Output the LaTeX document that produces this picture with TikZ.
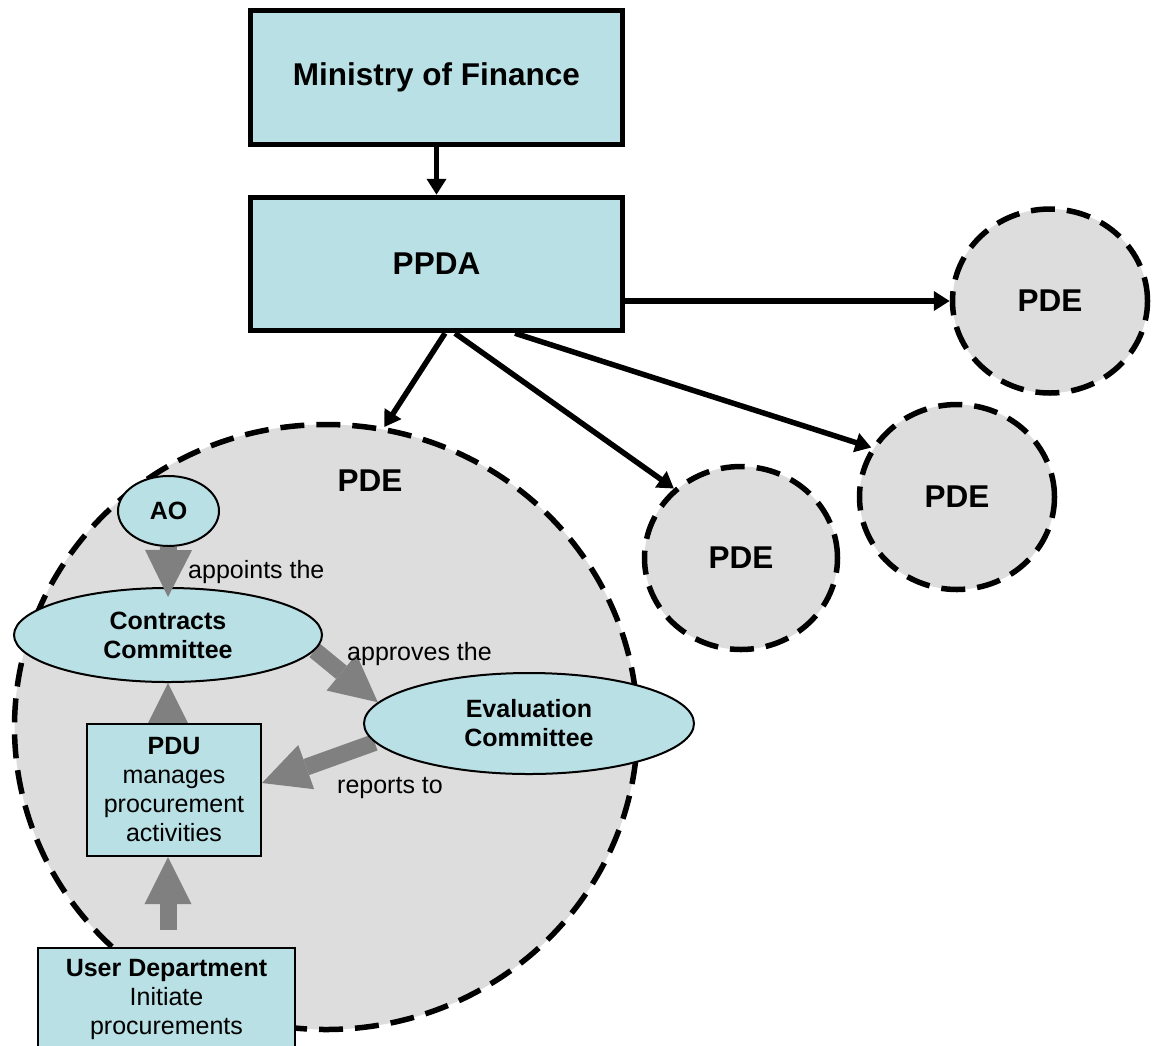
\documentclass[tikz,border=0pt]{standalone}
\usepackage{fontspec}
\setmainfont{Liberation Sans}
\usetikzlibrary{shapes.geometric,arrows.meta,calc}
\definecolor{boxfill}{RGB}{185,224,228}
\definecolor{pdefill}{RGB}{221,221,221}
\definecolor{arrowgray}{RGB}{128,128,128}
\pgfdeclarelayer{back}
\pgfdeclarelayer{mid}
\pgfsetlayers{back,mid,main}
\begin{document}
\begin{tikzpicture}[x=1pt,y=-1pt,
  topbox/.style={draw, line width=5.5pt, fill=boxfill, minimum width=372pt, minimum height=134pt, inner sep=0pt, font=\fontsize{31.5}{36}\selectfont\bfseries},
  pde/.style={ellipse, draw, line width=5.5pt, dash pattern=on 24pt off 12pt, fill=pdefill, inner sep=0pt, font=\fontsize{31.5}{36}\selectfont\bfseries},
  smallbox/.style={draw, line width=2pt, fill=boxfill, align=center, inner sep=0pt, font=\fontsize{25}{29}\selectfont},
  oval/.style={ellipse, draw, line width=2pt, fill=boxfill, align=center, inner sep=0pt, font=\fontsize{25}{29}\selectfont\bfseries},
  blackarrow/.style={line width=5.5pt, -{Triangle[length=16pt,width=19pt]}},
  grayarrow/.style={draw=arrowgray, line width=17pt, -{Triangle[length=47pt,width=47pt,line width=0pt]}},
  lbl/.style={inner sep=0pt, font=\fontsize{25}{29}\selectfont},
  biglbl/.style={inner sep=0pt, font=\fontsize{31.5}{36}\selectfont\bfseries}
]
\useasboundingbox (0,0) rectangle (1156,1045);
\clip (0,0) rectangle (1156,1045);

% big PDE
\begin{pgfonlayer}{back}
\node[pde, minimum width=623pt, minimum height=605pt] (pdebig) at (326,727) {};
\end{pgfonlayer}

% top boxes
\node[topbox] (mof) at (436.5,77.5) {Ministry of Finance};
\node[topbox, minimum height=133pt] (ppda) at (436.5,264) {PPDA};

% small PDEs
\node[pde, minimum width=195pt, minimum height=184pt] (pde1) at (1050,301) {PDE};
\node[pde, minimum width=195pt, minimum height=185pt] (pde2) at (957,497) {PDE};
\node[pde, minimum width=193pt, minimum height=183pt] (pde3) at (741,558) {PDE};

\node[biglbl] (pdebiglbl) at (370,481) {PDE};

% inner nodes
\node[oval, minimum width=101pt, minimum height=70pt] (ao) at (168.5,511) {AO};
\node[oval, minimum width=308pt, minimum height=94pt] (cc) at (168,635) {Contracts\\Committee};
\node[oval, minimum width=330pt, minimum height=101pt] (eval) at (529,723.5) {Evaluation\\Committee};
\node[smallbox, minimum width=174pt, minimum height=132pt] (pdu) at (174,790) {\textbf{PDU}\\manages\\procurement\\activities};
\node[smallbox, minimum width=257pt, minimum height=102pt] (user) at (166.5,999) {\textbf{User Department}\\Initiate\\procurements};

% gray arrows behind nodes
\begin{pgfonlayer}{mid}
\draw[grayarrow] (cc.-6) -- (eval.172);
\draw[grayarrow] (eval.187) -- ($(pdu.east)+(0,-7)$);
\draw[grayarrow] (pdu.north -| cc.south) -- (cc.south);
\draw[grayarrow] ($(user.north -| cc.south)+(0,-17)$) -- (pdu.south -| cc.south);
\end{pgfonlayer}
\draw[grayarrow] (ao.south) -- ($(cc.north)+(0,10)$);

% black arrows
\draw[blackarrow] (mof.south) -- (ppda.north);
\draw[blackarrow] (pde1.west -| ppda.east) -- (pde1.west);
\draw[blackarrow] ($(ppda.south)+(8.5,0)$) -- (pdebig.79);
\draw[blackarrow] ($(ppda.south)+(18.5,0)$) -- (pde3.134);
\draw[blackarrow] ($(ppda.south)+(78.5,0)$) -- (pde2.150);

% labels
\node[lbl, anchor=base west] (l1) at (188,578) {appoints the};
\node[lbl, anchor=base west] (l2) at (347,660) {approves the};
\node[lbl, anchor=base west] (l3) at (337,793) {reports to};
\end{tikzpicture}
\end{document}
